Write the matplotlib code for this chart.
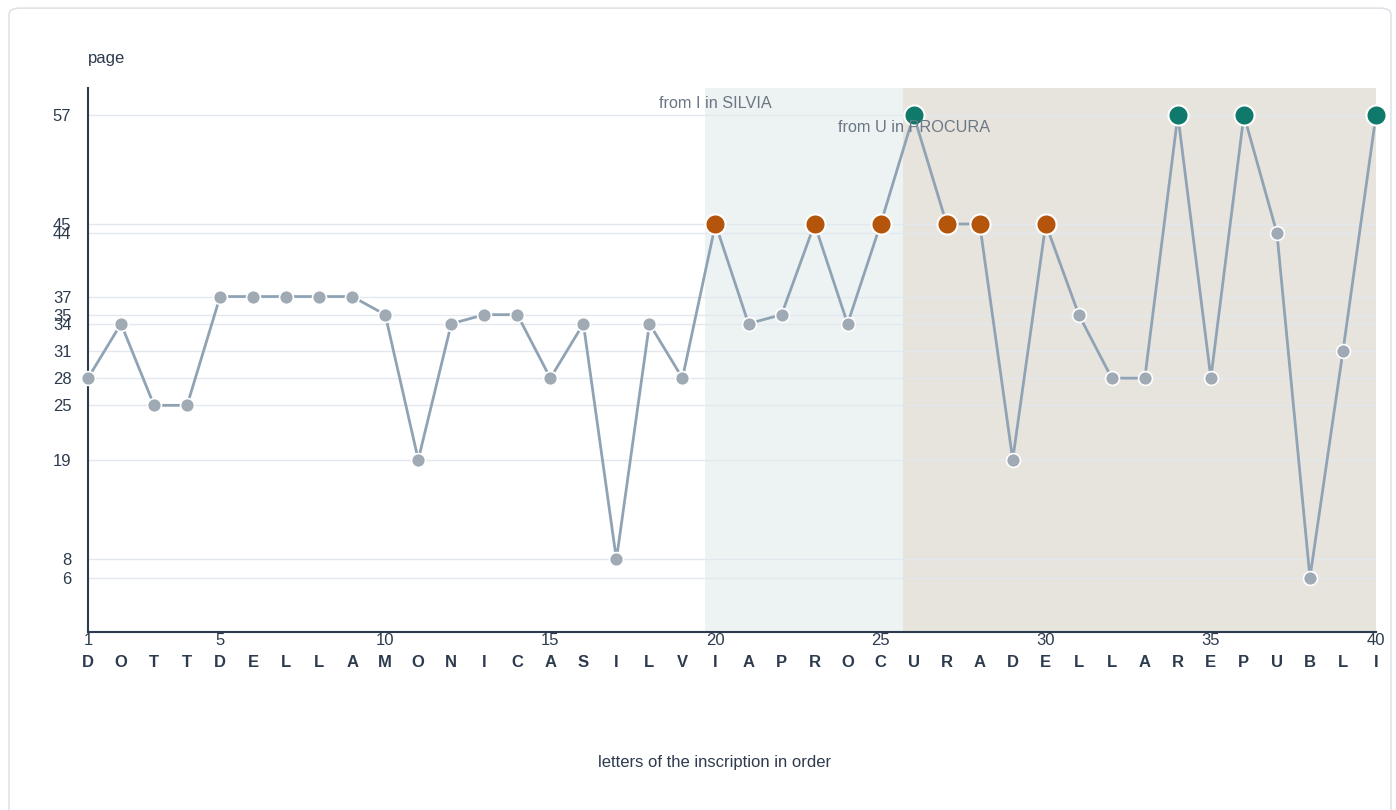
import numpy as np
import matplotlib
matplotlib.use("Agg")
import matplotlib.pyplot as plt
from matplotlib.patches import FancyBboxPatch
import matplotlib.transforms as mtransforms

plt.rcParams["font.family"] = ["Liberation Sans", "DejaVu Sans"]

letters = list("DOTTDELLAMONICASILVIAPROCURADELLAREPUBLI")
pages = [28, 34, 25, 25, 37, 37, 37, 37, 37, 35,
         19, 34, 35, 35, 28, 34, 8, 34, 28, 45,
         34, 35, 45, 34, 45, 57, 45, 45, 19, 45,
         35, 28, 28, 57, 28, 57, 44, 6, 31, 57]
orange_idx = [20, 23, 25, 27, 28, 30]
green_idx = [26, 34, 36, 40]
y_ticks = [6, 8, 19, 25, 28, 31, 34, 35, 37, 44, 45, 57]
x_ticks = [1, 5, 10, 15, 20, 25, 30, 35, 40]
bands = [(19.68, 25.68, "#edf3f3"), (25.68, 40, "#e7e4de")]
notes = [(20, 58.25, "from I in SILVIA"), (26, 55.6, "from U in PROCURA")]

DARK = "#2d3b4e"
LINE = "#8fa3b5"
FS = 12

fig = plt.figure(figsize=(13.96, 8.1), dpi=100)
frame = FancyBboxPatch((9 / 1396, -0.05), 1382 / 1396, 1.04, boxstyle="round,pad=0,rounding_size=0.008",
                       transform=fig.transFigure, fc="white", ec="#dfe3e8", lw=1.2, zorder=-10)
fig.patches.append(frame)

ax = fig.add_axes([88 / 1396, (810 - 632) / 810, 1288 / 1396, 544 / 810])
ax.set_zorder(5)
ax.set_facecolor("none")
x = np.arange(1, len(pages) + 1)

for x0, x1, c in bands:
    ax.axvspan(x0, x1, color=c, lw=0, zorder=0)

for yt in y_ticks:
    ax.axhline(yt, color="#e3e8ee", lw=1, zorder=1)

ax.plot(x, pages, color=LINE, lw=2, zorder=2, clip_on=False)
gray = [i for i in x if i not in orange_idx and i not in green_idx]
ax.scatter(gray, [pages[i - 1] for i in gray], s=100, color="#a0aab5", edgecolor="white",
           lw=1.2, zorder=3, clip_on=False)
ax.scatter(orange_idx, [pages[i - 1] for i in orange_idx], s=210, color="#b5540b",
           edgecolor="white", lw=1.5, zorder=4, clip_on=False)
ax.scatter(green_idx, [pages[i - 1] for i in green_idx], s=210, color="#0f7a6b",
           edgecolor="white", lw=1.5, zorder=4, clip_on=False)

for xt, yt, s in notes:
    ax.text(xt, yt, s, ha="center", va="center", fontsize=11.7, color="#6b7785", zorder=5)

ax.set_xlim(1, 40)
ax.set_ylim(0, 60)
ax.set_yticks(y_ticks)
ax.set_yticklabels([str(v) for v in y_ticks], fontsize=FS, color=DARK)
ax.set_xticks(x_ticks)
ax.set_xticklabels([str(v) for v in x_ticks], fontsize=FS, color=DARK)
ax.tick_params(axis="y", length=0, pad=12)
ax.tick_params(axis="x", length=0, pad=1)
for s in ["top", "right"]:
    ax.spines[s].set_visible(False)
for s in ["left", "bottom"]:
    ax.spines[s].set_color(DARK)
    ax.spines[s].set_linewidth(1.5)

trans = mtransforms.blended_transform_factory(ax.transData, ax.transAxes)
for i, ch in zip(x, letters):
    ax.text(i, -0.056, ch, transform=trans, ha="center", va="center", fontsize=FS,
            fontweight="bold", color=DARK)

fig.text(88 / 1396, 1 - 58 / 810, "page", ha="left", va="center", fontsize=FS, color=DARK)
fig.text(715 / 1396, 1 - 763 / 810, "letters of the inscription in order", ha="center",
         va="center", fontsize=FS, color=DARK)

fig.savefig("out.png", dpi=100)
